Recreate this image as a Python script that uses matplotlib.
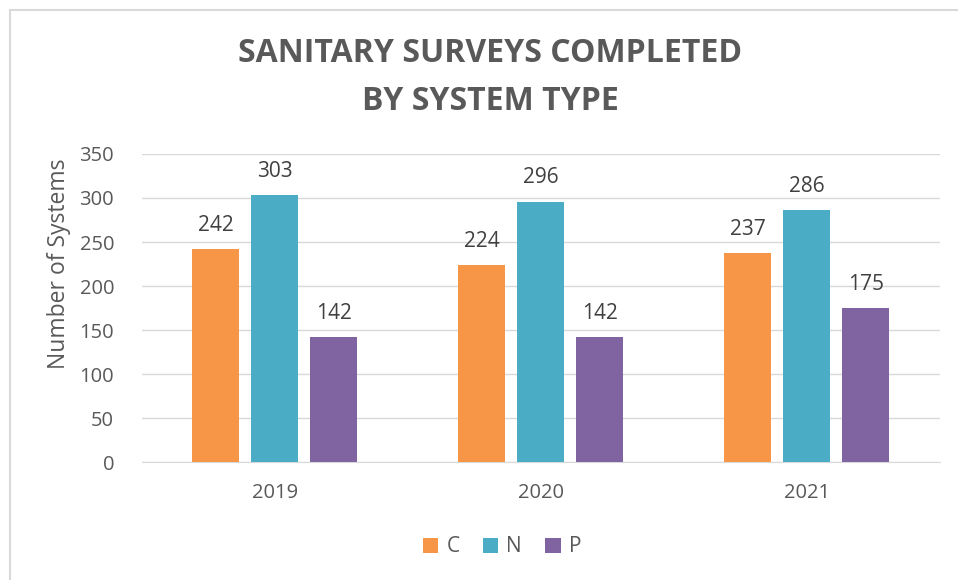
import numpy as np
import matplotlib.pyplot as plt
from matplotlib.lines import Line2D
from matplotlib.patches import Patch

plt.rcParams['font.family'] = ['Open Sans', 'DejaVu Sans']

years = ['2019', '2020', '2021']
series = ['C', 'N', 'P']
c_vals = [242, 224, 237]
n_vals = [303, 296, 286]
p_vals = [142, 142, 175]
colors = ['#F79646', '#4BACC6', '#8064A2']

text_color = '#595959'
grid_color = '#D9D9D9'

fig = plt.figure(figsize=(9.58, 5.8), dpi=100)
ax = fig.add_axes([0.148, 0.2034, 0.833, 0.5311])

x = np.arange(len(years))
width = 0.177
step = 0.222
for i, (name, vals) in enumerate(zip(series, [c_vals, n_vals, p_vals])):
    pos = x + (i - 1) * step
    ax.bar(pos, vals, width, color=colors[i], label=name, zorder=3)
    for xp, v in zip(pos, vals):
        ax.text(xp, v + 15, str(v), ha='center', va='bottom',
                fontsize=15, color='#404040')

ax.set_xlim(-0.5, 2.5)
ax.set_ylim(0, 350)
ax.set_yticks(np.arange(0, 351, 50))
ax.set_xticks(x)
ax.set_xticklabels(years)
ax.yaxis.grid(True, color=grid_color, linewidth=1, zorder=0)
ax.set_axisbelow(True)
for side in ['top', 'right', 'left']:
    ax.spines[side].set_visible(False)
ax.spines['bottom'].set_color(grid_color)
ax.tick_params(axis='both', length=0, labelsize=14.5, colors=text_color)
ax.tick_params(axis='y', pad=20)
ax.tick_params(axis='x', pad=15)
ax.set_ylabel('Number of Systems', fontsize=16.5, color=text_color)
ax.yaxis.set_label_coords(-0.089, 0.643)

fig.text(0.512, 0.908, 'SANITARY SURVEYS COMPLETED', ha='center', va='center',
         fontsize=23, fontweight='bold', color=text_color)
fig.text(0.512, 0.825, 'BY SYSTEM TYPE', ha='center', va='center',
         fontsize=23, fontweight='bold', color=text_color)

handles = [Patch(facecolor=c, edgecolor='none', label=s) for c, s in zip(colors, series)]
fig.legend(handles=handles, loc='center', bbox_to_anchor=(0.524, 0.057), ncol=3,
           frameon=False, fontsize=15, labelcolor=text_color, handlelength=0.75,
           handleheight=0.75, handletextpad=0.4, columnspacing=1.1)

# outer chart border (top and left edges visible)
fig.add_artist(Line2D([10 / 958, 1], [1 - 10 / 580, 1 - 10 / 580],
                      transform=fig.transFigure, color='#D9D9D9', linewidth=1.5))
fig.add_artist(Line2D([10 / 958, 10 / 958], [0, 1 - 10 / 580],
                      transform=fig.transFigure, color='#D9D9D9', linewidth=1.5))

fig.savefig('out.png', dpi=100)
